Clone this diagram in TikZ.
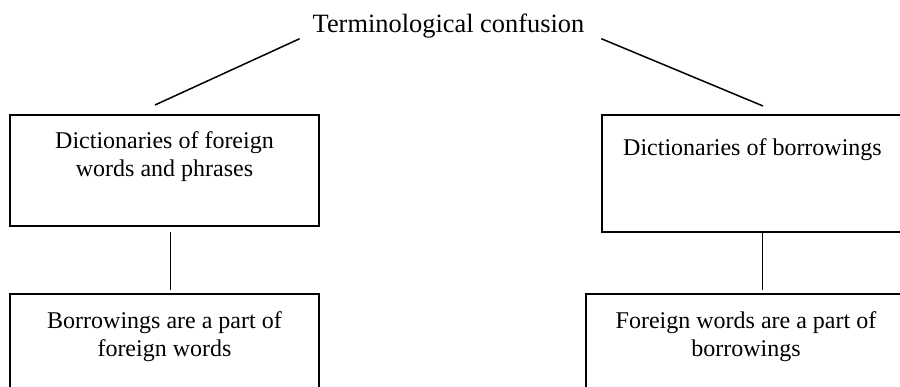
\documentclass[tikz,border=0pt]{standalone}
\usepackage{fontspec}
\setmainfont{Liberation Serif}
\usetikzlibrary{positioning}

\begin{document}
\begin{tikzpicture}
  [x=1pt,y=-1pt,
   every node/.style={inner sep=0pt,outer sep=0pt},
   boxtext/.style={align=center,font=\fontsize{24}{28.5}\selectfont},
   link/.style={line width=1.5pt}]

  \tikzstyle{box} = [draw,line width=2pt]

  \path[use as bounding box,clip] (0,0) rectangle (900,387);

  \node[anchor=base,font=\fontsize{26.4}{29}\selectfont] (title) at (448.5,33) {Terminological confusion};

  \node[box,minimum width=309pt,minimum height=111pt] (dictf) at (164.5,170.5) {};
  \node[box,minimum width=301pt,minimum height=117pt] (dictb) at (752.5,173.5) {};
  \node[box,minimum width=309pt,minimum height=120pt] (partf) at (164.5,354) {};
  \node[box,minimum width=320pt,minimum height=120pt] (partb) at (746,354) {};

  \node[boxtext,below=16.5pt of dictf.north] (dictftext) {Dictionaries of foreign\\words and phrases};
  \node[boxtext,below=23.5pt of dictb.north] (dictbtext) {Dictionaries of borrowings};
  \node[boxtext,below=17.5pt of partf.north] (partftext) {Borrowings are a part of\\foreign words};
  \node[boxtext,below=17.5pt of partb.north] (partbtext) {Foreign words are a part of\\borrowings};

  \draw[link] ([xshift=-13pt]title.south west) -- ([xshift=-9.5pt,yshift=10pt]dictf.north);
  \draw[link] ([xshift=17pt]title.south east) -- ([xshift=10.5pt,yshift=9pt]dictb.north);
  \draw[link,shorten <=6pt,shorten >=4pt] ([xshift=6pt]dictf.south) -- ([xshift=6pt]partf.north);
  \draw[link,shorten >=4pt] ([xshift=10pt]dictb.south) -- ([xshift=10pt]dictb.south |- partb.north);
\end{tikzpicture}
\end{document}
